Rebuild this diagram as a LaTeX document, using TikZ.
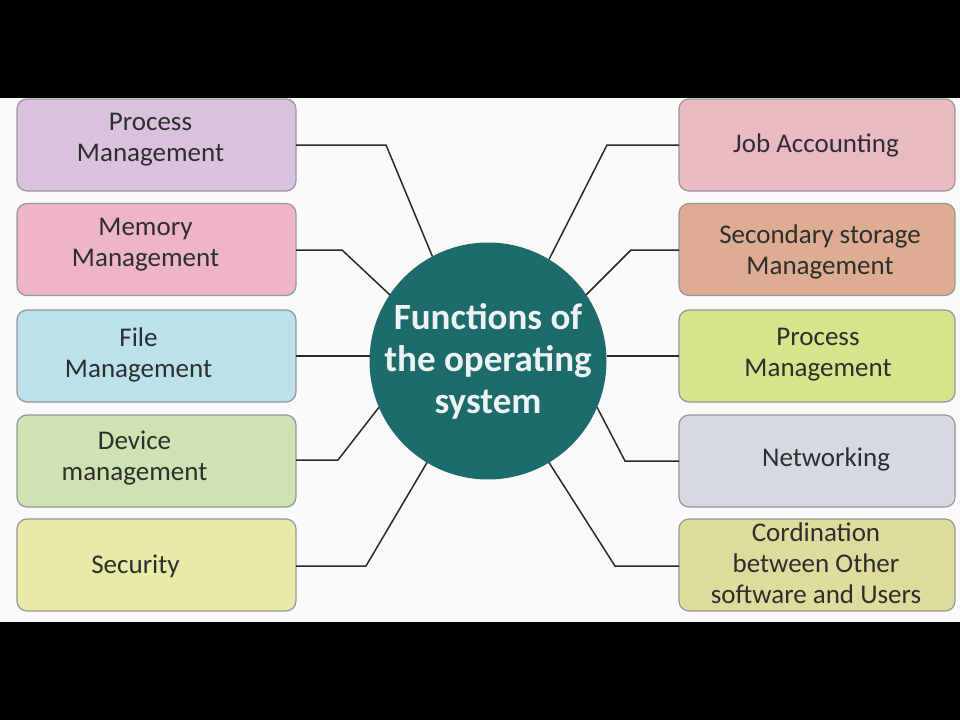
\documentclass[tikz,border=0pt]{standalone}
\usepackage{fontspec}
\setmainfont{Carlito}
\definecolor{cL1}{HTML}{D9C2DE}
\definecolor{cL2}{HTML}{EEB4C8}
\definecolor{cL3}{HTML}{BBE1EB}
\definecolor{cL4}{HTML}{CEE2B2}
\definecolor{cL5}{HTML}{E8EAA8}
\definecolor{cR1}{HTML}{E9BAC1}
\definecolor{cR2}{HTML}{DEAC92}
\definecolor{cR3}{HTML}{D7E48C}
\definecolor{cR4}{HTML}{D4D9E2}
\definecolor{cR5}{HTML}{DEDC9C}
\definecolor{teal}{HTML}{1E6B6C}
\definecolor{boxline}{HTML}{979797}
\definecolor{txt}{HTML}{2E2E2E}
\definecolor{conn}{HTML}{2A2A2A}
\begin{document}
\begin{tikzpicture}[x=1pt,y=-1pt,
  fbox/.style={draw=boxline, line width=1.2pt, rounded corners=10pt, inner sep=0pt, outer sep=0pt, minimum height=92pt},
  lbox/.style={fbox, minimum width=279pt},
  rbox/.style={fbox, minimum width=276pt},
  btext/.style={align=center, text=txt, inner sep=0pt, font=\fontsize{27}{31}\selectfont},
  conline/.style={draw=conn, line width=1.5pt},
  hub/.style={circle, fill=teal, minimum size=232pt, inner sep=0pt, outer sep=0pt, align=center, text=white!92!teal, font=\bfseries\fontsize{37}{42}\selectfont}
]
\useasboundingbox (0,0) rectangle (960,720);
\fill[white!98!black] (0,0) rectangle (960,720);
\fill[black] (0,0) rectangle (960,98);
\fill[black] (0,622) rectangle (960,720);

% hub
\node[hub] (c) at (488,361) {Functions of\\the operating\\system};

% left boxes
\node[lbox, fill=cL1] (l1) at (156.5,145) {};
\node[lbox, fill=cL2] (l2) at (156.5,249.5) {};
\node[lbox, fill=cL3] (l3) at (156.5,356) {};
\node[lbox, fill=cL4] (l4) at (156.5,461) {};
\node[lbox, fill=cL5] (l5) at (156.5,565) {};
\node[btext] (tl1) at ([xshift=-6pt,yshift=5pt]l1.center) {Process\\Management};
\node[btext] (tl2) at ([xshift=-11pt,yshift=5pt]l2.center) {Memory\\Management};
\node[btext] (tl3) at ([xshift=-18pt,yshift=1.5pt]l3.center) {File\\Management};
\node[btext] (tl4) at ([xshift=-22pt,yshift=2.5pt]l4.center) {Device\\management};
\node[btext] (tl5) at ([xshift=-21pt,yshift=-1pt]l5.center) {Security};

% right boxes
\node[rbox, fill=cR1] (r1) at (817,145) {};
\node[rbox, fill=cR2] (r2) at (817,249.5) {};
\node[rbox, fill=cR3] (r3) at (817,356) {};
\node[rbox, fill=cR4] (r4) at (817,461) {};
\node[rbox, fill=cR5] (r5) at (817,565) {};
\node[btext] (tr1) at ([xshift=-1pt]r1.center) {Job Accounting};
\node[btext] (tr2) at ([xshift=3pt,yshift=-2pt]r2.center) {Secondary storage\\Management};
\node[btext] (tr3) at ([xshift=1pt,yshift=1.5pt]r3.center) {Process\\Management};
\node[btext] (tr4) at ([xshift=9pt,yshift=2pt]r4.center) {Networking};
\node[btext] (tr5) at ([xshift=-1pt,yshift=2pt]r5.center) {Cordination\\between Other\\software and Users};

% connectors left
\draw[conline] (l1.east) -- ++(90,0) -- (c.118);
\draw[conline] ([yshift=-0.5pt]l2.east) -- ++(46,0) -- (c.146);
\draw[conline] (l3.east) -- (c.west |- l3.east);
\draw[conline] ([yshift=1pt]l4.east) -- ++(42,0) -- (c.203);
\draw[conline] ([yshift=-1pt]l5.east) -- ++(70,0) -- (c.239);

% connectors right
\draw[conline] (r1.west) -- ++(-72,0) -- (c.59);
\draw[conline] ([yshift=-0.5pt]r2.west) -- ++(-48,0) -- (c.34);
\draw[conline] (r3.west) -- (c.east |- r3.west);
\draw[conline] (r4.west) -- ++(-54,0) -- (c.337);
\draw[conline] ([yshift=-1pt]r5.west) -- ++(-64,0) -- (c.301);
\end{tikzpicture}
\end{document}
